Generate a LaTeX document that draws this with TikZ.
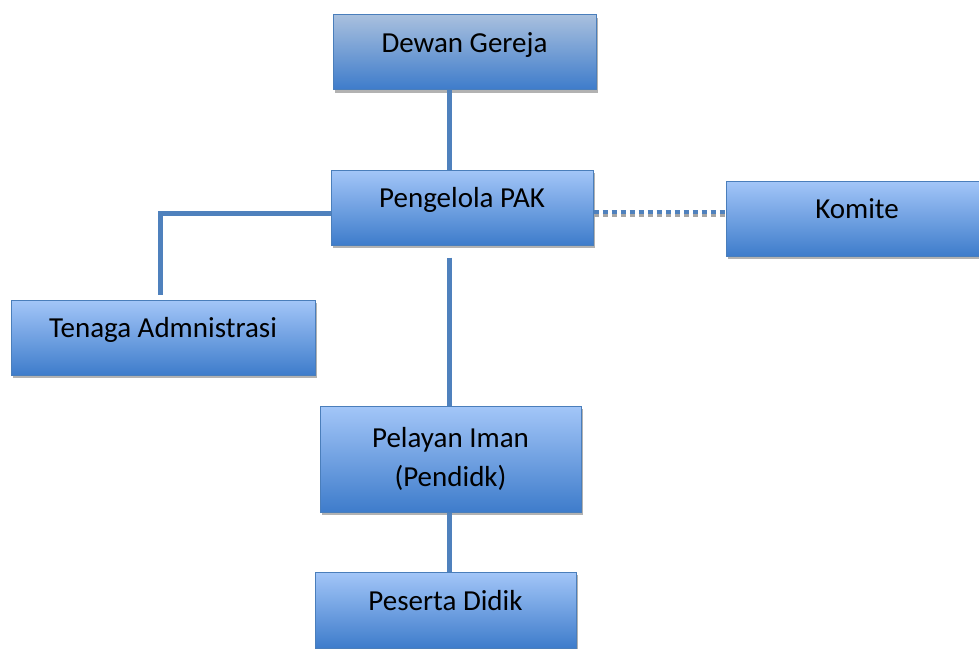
\documentclass[tikz,border=0pt]{standalone}
\usepackage{fontspec}
\setmainfont{Carlito}
\usetikzlibrary{shadows}
\definecolor{biruatas}{HTML}{A3C6F8}
\definecolor{birubawah}{HTML}{3E7CCB}
\definecolor{abuatas}{HTML}{A9C0DE}
\definecolor{garis}{HTML}{4F81BD}
\definecolor{tepi}{HTML}{4A7EBB}
\tikzset{
	kotak/.style = {draw = tepi, line width = 1pt, top color = biruatas, bottom color = birubawah, drop shadow = {shadow xshift = 1.5pt, shadow yshift = -3pt, fill = black, opacity = 0.3}, font = \fontsize{29}{39}\selectfont, align = center, minimum height = 75pt},
	geser/.style = {text height = 10pt, text depth = 10pt},
	hubung/.style = {draw = garis, line width = 5pt},
	putus/.style = {line width = 4pt, dash pattern = on 5pt off 4pt}
}
\begin{document}
\begin{tikzpicture}[x = 1pt, y = -1pt]
	\useasboundingbox (0, 0) rectangle (979, 648);

	\node [kotak, geser, top color = abuatas, minimum width = 263pt] (dewan) at (464.5, 52) {Dewan Gereja};
	\node [kotak, geser, minimum width = 262pt] (pengelola) at (462, 207.5) {Pengelola PAK};
	\node [kotak, geser, minimum width = 262pt] (komite) at (857, 218.5) {Komite};
	\node [kotak, geser, minimum width = 304pt] (tenaga) at (163, 337.5) {Tenaga Admnistrasi};
	\node [kotak, minimum width = 261pt, minimum height = 106pt] (pelayan) at (450.5, 459) {Pelayan Iman\\(Pendidk)};
	\node [kotak, geser, minimum width = 261pt, minimum height = 76pt] (peserta) at (445.5, 610) {Peserta Didik};

	\coordinate (tulang) at (449, 0);
	\coordinate (siku) at (160, 0);
	\coordinate (p0) at ([yshift = -12pt]pengelola.south);
	\coordinate (t0) at ([yshift = -5.5pt]pengelola.west);
	\coordinate (t1) at ([yshift = 5pt]tenaga.north);
	\coordinate (k0) at ([yshift = -5.5pt]pengelola.east);
	\coordinate (k1) at (k0 -| komite.west);

	\draw [hubung] (dewan.south -| tulang) -- (pengelola.north -| tulang);
	\draw [hubung] (p0 -| tulang) -- (pelayan.north -| tulang);
	\draw [hubung] (pelayan.south -| tulang) -- (peserta.north -| tulang);
	\draw [hubung] (t0) -| (t1 -| siku);

	\draw [putus, draw = gray!70] ([yshift = -1.5pt]k0) -- ([yshift = -1.5pt]k1);
	\draw [putus, draw = garis] ([yshift = 1pt]k0) -- ([yshift = 1pt]k1);
\end{tikzpicture}
\end{document}
